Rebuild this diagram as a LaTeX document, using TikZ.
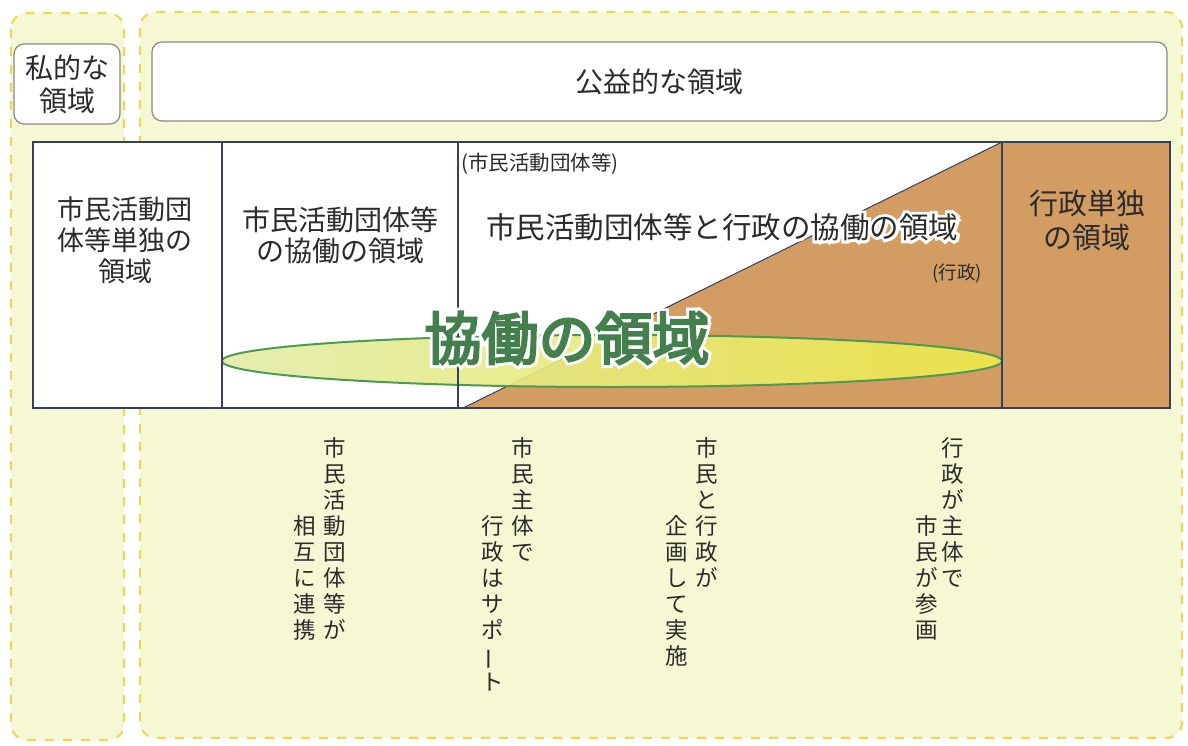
\documentclass[tikz,border=0pt]{standalone}
\usepackage{fontspec}
\usepackage{graphicx}
\usetikzlibrary{shapes.geometric}
\newfontfamily\jp{Noto Sans CJK JP}
\newfontfamily\jpb[FakeBold=4]{Noto Sans CJK JP}
\newfontfamily\jpbhalo[FakeBold=14]{Noto Sans CJK JP}
\newfontfamily\jphalo[FakeBold=20]{Noto Sans CJK JP}
\definecolor{bgY}{HTML}{F5F8D3}
\definecolor{dashY}{HTML}{E6DA5C}
\definecolor{brownF}{HTML}{D39C62}
\definecolor{navy}{HTML}{34405E}
\definecolor{txt}{HTML}{2B2B2B}
\definecolor{boxgray}{HTML}{8A8A80}
\definecolor{ellG}{HTML}{4E9A52}
\definecolor{ellL}{HTML}{E2ECA8}
\definecolor{ellR}{HTML}{EEEA4A}
\definecolor{bigG}{HTML}{447F4E}
\begin{document}
\begin{tikzpicture}[x=1pt,y=-1pt,
  region/.style={draw=dashY, line width=2.2pt, dash pattern=on 9pt off 9pt, rounded corners=16pt, fill=bgY},
  labelbox/.style={draw=boxgray, line width=1.2pt, fill=white, rounded corners=10pt},
  cell/.style={draw=navy, line width=1.4pt},
  t/.style={text=txt, font=\jp\fontsize{27}{31}\selectfont, align=center, inner sep=0pt},
  vt/.style={text=txt, font=\jp\fontsize{22.5}{26}\selectfont, align=center, inner sep=0pt, anchor=north},
]
\useasboundingbox (0,0) rectangle (1188,746);
\fill[white] (0,0) rectangle (1188,746);
% dashed regions
\draw[region] (11,13) rectangle (124,740);
\draw[region] (140,12) rectangle (1182,738);
% label boxes
\node[labelbox, t, font=\jp\fontsize{28}{33}\selectfont, minimum width=106pt, minimum height=80pt] (priv) at (67,84) {私的な\\領域};
\node[labelbox, t, font=\jp\fontsize{28}{33}\selectfont, minimum width=1015pt, minimum height=79pt] (pub) at (659.5,81.5) {公益的な領域};
% table cells
\fill[white] (33,142) rectangle (1002,408);
\coordinate (tl) at (463,408);
\coordinate (tr) at (1002,142);
\coordinate (br) at (1002,408);
\fill[brownF] (tl) -- (tr) -- (br) -- cycle;
\fill[brownF] (1002,142) rectangle (1170,408);
\draw[navy, line width=1pt] (tl) -- (tr);
% ellipse
\node[draw=ellG, line width=2pt, ellipse, left color=ellL, right color=ellR, fill opacity=0.9, minimum width=780pt, minimum height=52pt, inner sep=0pt] (coll) at (612,361) {};
% borders
\draw[cell] (33,142) rectangle (1170,408);
\draw[cell] (222,142) -- (222,408);
\draw[cell] (458,142) -- (458,408);
\draw[cell] (1002,142) -- (1002,408);
% texts in cells
\node[t] (c1) at (125,240) {市民活動団\\体等単独の\\領域};
\node[t, font=\jp\fontsize{28}{31}\selectfont] (c2) at (340,235) {市民活動団体等\\の協働の領域};
\node[t, font=\jp\fontsize{20.5}{23}\selectfont, anchor=west] (c3s) at (461,164) {(市民活動団体等)};
\node[t, font=\jphalo\fontsize{29.5}{32}\selectfont, text=white] (c3h) at (722,227) {市民活動団体等と行政の協働の領域};
\node[t, font=\jp\fontsize{29.5}{32}\selectfont] (c3) at (722,227) {市民活動団体等と行政の協働の領域};
\node[t, font=\jp\fontsize{18.5}{20}\selectfont] (c3g) at (957,274) {(行政)};
\node[t, font=\jp\fontsize{29}{34}\selectfont] (c4) at (1087,221) {行政単独\\の領域};
% big text
\node[t, font=\jpbhalo\fontsize{57}{60}\selectfont, text=white] (bigh) at (567,338) {協働の領域};
\node[t, font=\jpb\fontsize{57}{60}\selectfont, text=bigG] (big) at (567,338) {協働の領域};
% vertical texts
\node[vt] (v1a) at (335,437) {市\\民\\活\\動\\団\\体\\等\\が};
\node[vt] (v1b) at (305,515) {相\\互\\に\\連\\携};
\node[vt] (v2a) at (523,437) {市\\民\\主\\体\\で};
\node[vt] (v2b) at (493,515) {行\\政\\は\\サ\\ポ\\\rotatebox[origin=c]{90}{ー}\\ト};
\node[vt] (v3a) at (707,437) {市\\民\\と\\行\\政\\が};
\node[vt] (v3b) at (677,515) {企\\画\\し\\て\\実\\施};
\node[vt] (v4a) at (953,437) {行\\政\\が\\主\\体\\で};
\node[vt] (v4b) at (927,515) {市\\民\\が\\参\\画};
\end{tikzpicture}
\end{document}
